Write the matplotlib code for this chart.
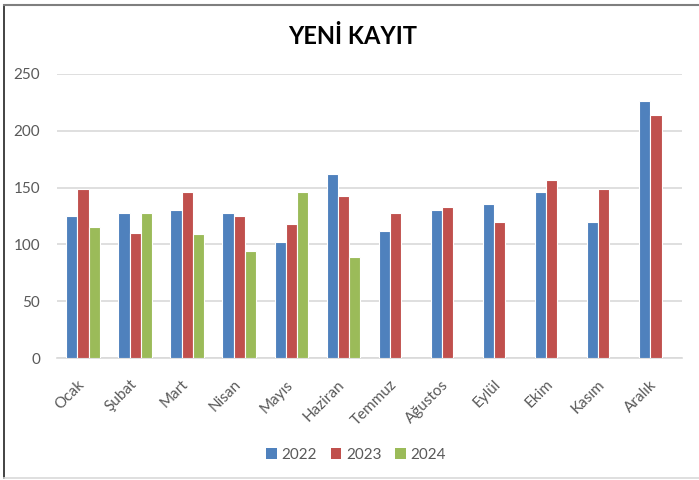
import matplotlib
matplotlib.use("Agg")
import matplotlib.pyplot as plt
from matplotlib.patches import Patch
from matplotlib.lines import Line2D
import numpy as np

months = ["Ocak", "Şubat", "Mart", "Nisan", "Mayıs", "Haziran", "Temmuz",
          "Ağustos", "Eylül", "Ekim", "Kasım", "Aralık"]
y2022 = [125, 128, 130, 128, 102, 162, 112, 130, 136, 146, 120, 226]
y2023 = [149, 110, 146, 125, 118, 143, 128, 133, 120, 157, 149, 214]
y2024 = [115, 128, 109, 94, 146, 89, None, None, None, None, None, None]
series_names = ["2022", "2023", "2024"]
colors = ["#4F81BD", "#C0504D", "#9BBB59"]
yticks = [0, 50, 100, 150, 200, 250]

plt.rcParams['font.family'] = ['Lato', 'DejaVu Sans']
fig = plt.figure(figsize=(6.99, 4.80), dpi=100)
ax = fig.add_axes([57/699, 1-358/480, (682-57)/699, (358-74)/480])

x = np.arange(len(months))
w = 0.215
for i, (vals, c) in enumerate(zip([y2022, y2023, y2024], colors)):
    xs = [xi + (i-1)*w for xi, v in zip(x, vals) if v is not None]
    vs = [v for v in vals if v is not None]
    ax.bar(xs, vs, width=w, color=c, edgecolor="white", linewidth=0.8, zorder=3)

ax.set_xlim(-0.5, len(months)-0.5)
ax.set_ylim(0, 250)
ax.set_yticks(yticks)
ax.set_yticklabels([str(t) for t in yticks])
ax.grid(axis="y", color="#D9D9D9", linewidth=1.2, zorder=0)
ax.set_axisbelow(True)
for s in ["top", "right", "left"]:
    ax.spines[s].set_visible(False)
ax.spines["bottom"].set_color("#D9D9D9")
ax.spines["bottom"].set_linewidth(1.2)
ax.tick_params(axis="both", length=0, labelsize=11, colors="#595959")
ax.tick_params(axis="y", pad=12)
ax.set_xticks(x)
ax.set_xticklabels(months, rotation=45, ha="right", rotation_mode="default")
ax.tick_params(axis="x", pad=14)
for lbl in ax.get_xticklabels():
    lbl.set_transform(lbl.get_transform() + matplotlib.transforms.ScaledTranslation(4/100, 0, fig.dpi_scale_trans))

fig.text(353/699, 1-36/480, "YENİ KAYIT", ha="center", va="center",
         fontsize=17, fontweight="bold", color="black")

handles = [Patch(facecolor=c, edgecolor="none") for c in colors]
fig.legend(handles, series_names, loc="center", bbox_to_anchor=(356/699, 1-455/480),
           ncol=3, frameon=False, fontsize=11, handlelength=0.7, handleheight=0.7,
           handletextpad=0.3, columnspacing=0.9, labelcolor="#595959")

# chart border
fig.add_artist(Line2D([4/699, 4/699], [1-5/480, 1-478/480], color="#222222", linewidth=1.2))
fig.add_artist(Line2D([4/699, 1], [1-5/480, 1-5/480], color="#7F7F7F", linewidth=1.5))
fig.add_artist(Line2D([4/699, 1], [1-478/480, 1-478/480], color="#D9D9D9", linewidth=1.2))

fig.savefig("out.png", dpi=100)
